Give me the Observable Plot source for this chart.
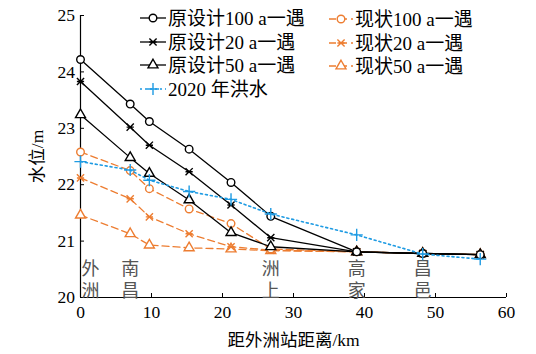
<!DOCTYPE html>
<html>
<head>
<meta charset="utf-8">
<script src="https://cdn.jsdelivr.net/npm/d3@7"></script>
<script src="https://cdn.jsdelivr.net/npm/@observablehq/plot@0.6"></script>
<style>
  html, body { margin: 0; padding: 0; background: #fff; }
  #chart { width: 536px; height: 354px; }
  #chart svg text { font-family: "Liberation Serif", "Noto Sans CJK SC", serif !important; }
</style>
</head>
<body>
<div id="chart"></div>
<script>
// ---------- data ----------
const distance = [0, 7.0, 9.7, 15.3, 21.2, 26.8, 38.9, 48.2, 56.3];
const design100 = [24.22, 23.43, 23.12, 22.63, 22.04, 21.44, 20.81, 20.78, 20.76];
const design20  = [23.83, 23.02, 22.70, 22.23, 21.64, 21.06, 20.81, 20.78, 20.76];
const design50  = [23.24, 22.48, 22.20, 21.73, 21.15, 20.90, 20.81, 20.78, 20.76];
const current100 = [22.58, 22.25, 21.93, 21.57, 21.31, 20.86, 20.81, 20.78, 20.76];
const current20  = [22.12, 21.75, 21.43, 21.13, 20.90, 20.84, 20.81, 20.78, 20.76];
const current50  = [21.46, 21.13, 20.93, 20.88, 20.86, 20.83, 20.81, 20.78, 20.76];
const flood2020  = [22.41, 22.26, 22.08, 21.88, 21.74, 21.48, 21.11, 20.77, 20.68];
const seriesNames = ["原设计100 a一遇", "原设计20 a一遇", "原设计50 a一遇",
                     "现状100 a一遇", "现状20 a一遇", "现状50 a一遇", "2020 年洪水"];
const seriesValues = [design100, design20, design50, current100, current20, current50, flood2020];
const stationNames = ["外\n洲", "南\n昌", "洲\n上", "高\n家", "昌\n邑"];
const stationDistance = [0, 7.0, 26.8, 38.9, 48.2];
const xTicks = [0, 10, 20, 30, 40, 50, 60];
const yTicks = [20, 21, 22, 23, 24, 25];
const xLabel = "距外洲站距离/km";
const yLabel = "水位/m";

// ---------- styles ----------
const BLACK = "#000", ORANGE = "#ED7D31", BLUE = "#1E9BE3";
const starSym = {
  draw(ctx, size) {
    const r = Math.sqrt(size / Math.PI);
    ctx.moveTo(-r, -r); ctx.lineTo(r, r);
    ctx.moveTo(r, -r); ctx.lineTo(-r, r);
    ctx.moveTo(-r, 0); ctx.lineTo(r, 0);
  }
};
const styles = [
  {stroke: BLACK, dash: null, symbol: "circle", r: 3.8},
  {stroke: BLACK, dash: null, symbol: starSym, r: 3.6},
  {stroke: BLACK, dash: null, symbol: "triangle", r: 3.7},
  {stroke: ORANGE, dash: "7,4", symbol: "circle", r: 3.8},
  {stroke: ORANGE, dash: "7,4", symbol: starSym, r: 3.6},
  {stroke: ORANGE, dash: "7,4", symbol: "triangle", r: 3.7},
  {stroke: BLUE, dash: "2,3", symbol: "plus", r: 4.0}
];
const FONT = "'Liberation Serif', 'Noto Sans CJK SC', serif";

const rows = [];
seriesValues.forEach((vals, s) => vals.forEach((v, i) => rows.push({s, x: distance[i], y: v})));
const stations = stationNames.map((n, i) => ({name: n, x: stationDistance[i], first: i === 0}));

const drawOrder = [5, 4, 3, 2, 1, 0, 6];
const seriesMarks = drawOrder.flatMap(s => {
  const st = styles[s];
  const d = rows.filter(r => r.s === s);
  return [
    Plot.line(d, {x: "x", y: "y", stroke: st.stroke, strokeWidth: s === 6 ? 1.6 : 1.3,
                  strokeDasharray: st.dash}),
    Plot.dot(d, {x: "x", y: "y", symbol: () => st.symbol, r: st.r, stroke: st.stroke,
                 strokeWidth: 1.4, fill: (st.symbol === "plus" || st.symbol === starSym) ? "none" : "white"})
  ];
});

const chart = Plot.plot({
  width: 536, height: 354,
  marginLeft: 80, marginRight: 30, marginTop: 15, marginBottom: 57,
  style: {fontFamily: FONT, fontSize: "17.5px", color: "#000", background: "#fff", overflow: "visible"},
  x: {domain: [xTicks[0], xTicks[xTicks.length - 1]]},
  y: {domain: [yTicks[0], yTicks[yTicks.length - 1]]},
  symbol: {type: "identity"},
  marks: [
    Plot.axisX({ticks: xTicks, tickSize: -4, tickPadding: 12, tickFormat: d => d,
                label: xLabel, labelAnchor: "center", labelOffset: 48, labelArrow: "none", fontSize: 17.5}),
    Plot.axisY({ticks: yTicks, tickSize: -4, tickPadding: 9.5, tickFormat: d => d,
                label: yLabel, labelAnchor: "center", labelOffset: 50, labelArrow: "none", fontSize: 17.5}),
    Plot.ruleX([xTicks[0]], {stroke: "#000", strokeWidth: 1.2}),
    Plot.ruleY([yTicks[0]], {stroke: "#000", strokeWidth: 1.2}),
    Plot.text(stations, {x: "x", text: "name", frameAnchor: "bottom", lineAnchor: "bottom",
                         dy: -1, fill: "#555", fontSize: 18, lineHeight: 1.17,
                         filter: d => !d.first}),
    Plot.text(stations, {x: "x", text: "name", frameAnchor: "bottom", lineAnchor: "bottom",
                         dy: -1, dx: 10, fill: "#555", fontSize: 18, lineHeight: 1.17,
                         filter: d => d.first}),
    ...seriesMarks
  ]
});
document.getElementById("chart").appendChild(chart);

// ---------- legend (inside plot, top right) ----------
const svg = d3.select(chart);
const legendLayout = [
  {s: 0, col: 0, row: 0}, {s: 1, col: 0, row: 1}, {s: 2, col: 0, row: 2}, {s: 6, col: 0, row: 3},
  {s: 3, col: 1, row: 0}, {s: 4, col: 1, row: 1}, {s: 5, col: 1, row: 2}
];
const colX = [140, 329], colW = [26, 24], rowY = [18, 42, 65, 89];
const lg = svg.append("g").attr("font-family", FONT).attr("font-size", 19).attr("text-anchor", "start");
legendLayout.forEach(({s, col, row}) => {
  const st = styles[s];
  const x0 = colX[col], x1 = colX[col] + colW[col], y = rowY[row] + (col === 1 ? 1 : 0);
  lg.append("line").attr("x1", x0).attr("x2", x1).attr("y1", y).attr("y2", y)
    .attr("stroke", st.stroke).attr("stroke-width", s === 6 ? 1.6 : 1.3)
    .attr("stroke-dasharray", st.dash);
  const type = st.symbol === "circle" ? d3.symbolCircle : st.symbol === "triangle" ? d3.symbolTriangle
             : st.symbol === "plus" ? d3.symbolPlus : st.symbol;
  lg.append("path").attr("transform", `translate(${(x0 + x1) / 2},${y})`)
    .attr("d", d3.symbol(type, Math.PI * st.r * st.r)())
    .attr("stroke", st.stroke).attr("stroke-width", 1.4)
    .attr("fill", (st.symbol === "plus" || st.symbol === starSym) ? "none" : "white");
  lg.append("text").attr("x", x1 + 2).attr("y", y).attr("dy", "0.35em")
    .attr("text-anchor", "start").attr("fill", "#000").text(seriesNames[s]);
});
</script>
</body>
</html>
